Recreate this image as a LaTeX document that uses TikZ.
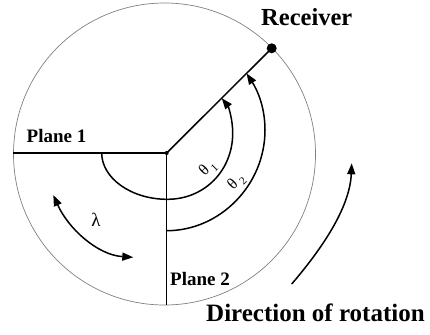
\documentclass[tikz,border=0pt]{standalone}
\usepackage{fontspec}
\setmainfont{Liberation Serif}
\usetikzlibrary{arrows.meta}
\begin{document}
\begin{tikzpicture}[x=1pt,y=-1pt,
  lbl/.style={font=\bfseries\fontsize{19}{19}\selectfont, anchor=base west, inner sep=0pt},
  big/.style={font=\bfseries\fontsize{25}{25}\selectfont, anchor=base west, inner sep=0pt},
  blk/.style={line width=1.5pt},
  arr/.style={line width=1.5pt, -{Triangle[length=11pt,width=8pt]}},
  darr/.style={line width=1.5pt, {Triangle[length=11pt,width=8pt]}-{Triangle[length=11pt,width=8pt]}},
  ang/.style={rotate=45, inner sep=0pt, font=\fontsize{16}{16}\selectfont},
  ]
\useasboundingbox (0,0) rectangle (430,334);
\coordinate (C) at (164.5,154);
\coordinate (O) at (166.7,153);
\coordinate (R) at (271.7,48.3);
\coordinate (P1) at (13.3,153);
\coordinate (P2) at (166.7,305);
\draw[black!50, line width=0.7pt] (C) circle[radius=151pt];
\draw[blk] (P1) -- (O) -- (P2);
\draw[blk] (O) -- (R);
\fill (O) circle[radius=2pt];
\fill (R) circle[radius=5pt];
% theta 1 arc
\coordinate (a1s) at (101.7,153);
\coordinate (a1e) at (221.7,98.2);
\draw[arr] (a1s) .. controls (101.7,178) and (131,199.3) .. (167.3,199.3)
  .. controls (205,199.3) and (232.7,170) .. (232.7,133.3)
  .. controls (232.7,118) and (228,106) .. (a1e);
% theta 2 arc
\coordinate (a2s) at (166.7,230.7);
\coordinate (a2e) at (246.6,73.4);
\draw[arr] (a2s) .. controls (220,230.7) and (265,185) .. (265,130)
  .. controls (265,105) and (256,88) .. (a2e);
% lambda arrow
\coordinate (l1) at (53.3,195);
\coordinate (l2) at (133.3,257.3);
\draw[darr] (l1) .. controls (68,228) and (97,255) .. (l2);
% rotation arrow
\coordinate (r1) at (291.7,284);
\coordinate (r2) at (351.7,163.3);
\draw[arr] (r1) .. controls (326,244) and (350,205) .. (r2);
% labels
\node[big, font=\bfseries\fontsize{24.5}{24.5}\selectfont] (rec) at (261,26) {Receiver};
\node[big] (dir) at (206,321.7) {Direction of rotation};
\node[lbl] (pl1) at (26.5,142.7) {Plane 1};
\node[lbl] (pl2) at (170,285.7) {Plane 2};
\node[ang] (t1) at (208,168.5) {θ\hspace{3pt}\raisebox{-4pt}{\fontsize{11}{11}\selectfont 1}};
\node[ang] (t2) at (236.5,182) {θ\hspace{3pt}\raisebox{-4pt}{\fontsize{11}{11}\selectfont 2}};
\node[inner sep=0pt, font=\fontsize{19}{19}\selectfont] (lam) at (96,220) {λ};
\end{tikzpicture}
\end{document}
